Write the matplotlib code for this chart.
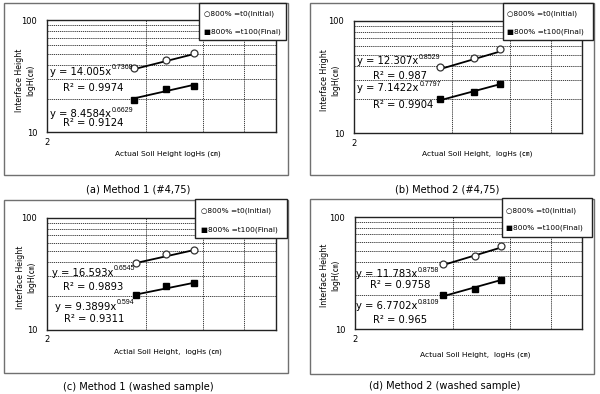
import matplotlib
matplotlib.use("Agg")
import matplotlib.pyplot as plt
import numpy as np
from matplotlib.patches import Rectangle
from matplotlib.ticker import FixedLocator, NullFormatter

plt.rcParams['font.family'] = ['DejaVu Sans', 'Noto Sans CJK KR']

W, H = 600, 394

# ---------------- data ----------------
panel_ids = ['a', 'b', 'c', 'd']
captions = ['(a) Method 1 (#4,75)', '(b) Method 2 (#4,75)',
            '(c) Method 1 (washed sample)', '(d) Method 2 (washed sample)']
ylabels = ['Interface Height\nlogH(㎝)', 'Interface Hright\nlogH(㎝)',
           'Interface Height\nlogH(㎝)', 'Interface Height\nlogH(㎝)']
xlabels = ['Actual Soil Height logHs (㎝)', 'Actual Soil Height,  logHs (㎝)',
           'Actial Soil Height,  logHs (㎝)', 'Actual Soil Height,  logHs (㎝)']
legend_initial = '○800% =t0(Initial)'
legend_final = '■800% =t100(Final)'

hs_a = [3.69, 4.63, 5.60]
hs_b = [3.67, 4.67, 5.60]
hs_c = [3.73, 4.63, 5.63]
hs_d = [3.72, 4.69, 5.61]

init_a = [37.7, 44.0, 50.8]
init_b = [38.7, 46.5, 56.0]
init_c = [39.2, 47.2, 51.6]
init_d = [38.4, 45.2, 55.2]

final_a = [19.5, 24.4, 25.9]
final_b = [20.1, 23.5, 27.7]
final_c = [20.2, 24.3, 26.0]
final_d = [20.3, 22.7, 27.7]

# power trendline y = k * x^n and R^2
init_k = ['14.005', '12.307', '16.593', '11.783']
init_n = ['0.7368', '0.8529', '0.6545', '0.8758']
init_r2 = ['0.9974', '0.987', '0.9893', '0.9758']
final_k = ['8.4584', '7.1422', '9.3899', '6.7702']
final_n = ['0.6629', '0.7797', '0.594', '0.8109']
final_r2 = ['0.9124', '0.9904', '0.9311', '0.965']

hs_all = [hs_a, hs_b, hs_c, hs_d]
init_all = [init_a, init_b, init_c, init_d]
final_all = [final_a, final_b, final_c, final_d]

y_minor = [20, 30, 40, 50, 60, 70, 80, 90]
x_minor = [4, 6, 8]

# ---------------- layout (pixels, top-left origin) ----------------
plot_box = [(47, 20.3, 276, 132.3), (354, 21, 582.3, 133.3),
            (47, 217.7, 276, 329.5), (355, 217, 582.3, 329.3)]
outer_box = [(4, 3, 288, 175), (310, 3, 594, 175),
             (4, 200, 288, 372.5), (309.5, 199, 594, 373.7)]
legend_box = [(199, 3, 286, 40), (503, 3, 593, 40),
              (195, 199, 287, 238), (502, 198, 592, 237)]
legend_text = [(204, 13.3, 31.7), (507, 13.3, 31.7),
               (201, 211, 229.3), (506, 210.3, 227.7)]
caption_pos = [(138.5, 190), (447, 190), (138.5, 387), (445, 386)]
ylabel_pos = [(25.5, 80), (330, 80), (26, 277), (330, 275)]
xlabel_pos = [(168, 154), (477, 154), (168, 352), (475, 354.7)]
eq_pos = [
    [(50, 71.7), (63.3, 87.7), (50, 114.3), (63.3, 123.3)],
    [(357.3, 61), (373.3, 75.7), (357.3, 88.3), (373.3, 105)],
    [(51.7, 272.7), (63.3, 287), (55, 306.7), (64, 319.3)],
    [(356, 274), (370, 285.3), (356, 306.3), (373.3, 320.3)],
]
EQ_FS = 7.2
SUP_FS = 5.0


def fx(px):
    return px / W


def fy(py):
    return 1 - py / H


fig = plt.figure(figsize=(W / 100, H / 100), dpi=100)
fig.patch.set_facecolor('white')
renderer = fig.canvas.get_renderer()


def power_label(px, py, k, n):
    t = fig.text(fx(px), fy(py), 'y = %sx' % k, fontsize=EQ_FS, va='center', ha='left')
    bb = t.get_window_extent(renderer=renderer)
    fig.text(bb.x1 / W + 0.6 / W, fy(py) + 3.8 / H, n, fontsize=SUP_FS,
             family=['Liberation Sans', 'DejaVu Sans'], va='center', ha='left')


for i in range(4):
    # outer chart frame
    x0, y0, x1, y1 = outer_box[i]
    fig.patches.append(Rectangle((fx(x0), fy(y1)), fx(x1) - fx(x0), fy(y0) - fy(y1),
                                 transform=fig.transFigure, fill=False,
                                 edgecolor='#707070', linewidth=1.0, zorder=0))

    x0, y0, x1, y1 = plot_box[i]
    ax = fig.add_axes([fx(x0), fy(y1), fx(x1) - fx(x0), fy(y0) - fy(y1)])
    ax.set_xscale('log')
    ax.set_yscale('log')
    ax.set_xlim(2, 10)
    ax.set_ylim(10, 100)
    ax.yaxis.set_major_locator(FixedLocator([10, 100]))
    ax.set_yticklabels(['10', '100'], fontsize=6.0)
    ax.xaxis.set_major_locator(FixedLocator([2]))
    ax.set_xticklabels(['2'], fontsize=6.0)
    ax.yaxis.set_minor_locator(FixedLocator(y_minor))
    ax.xaxis.set_minor_locator(FixedLocator(x_minor))
    ax.xaxis.set_minor_formatter(NullFormatter())
    ax.yaxis.set_minor_formatter(NullFormatter())
    ax.tick_params(which='both', length=0)
    ax.tick_params(axis='y', pad=7)
    ax.tick_params(axis='x', pad=4)
    ax.grid(which='minor', linestyle=(0, (1.5, 1)), color='#222222', linewidth=0.6)
    for s in ax.spines.values():
        s.set_linewidth(1.0)
        s.set_color('#222222')

    xs = np.array(hs_all[i])
    kn_i = (float(init_k[i]), float(init_n[i]))
    kn_f = (float(final_k[i]), float(final_n[i]))
    xt = np.linspace(xs.min(), xs.max(), 50)
    ax.plot(xt, kn_i[0] * xt ** kn_i[1], color='black', lw=1.3, zorder=3)
    ax.plot(xt, kn_f[0] * xt ** kn_f[1], color='black', lw=1.3, zorder=3)
    ax.plot(xs, init_all[i], linestyle='none', marker='o', markersize=5,
            markerfacecolor='white', markeredgecolor='#333333', markeredgewidth=0.9, zorder=4)
    ax.plot(xs, final_all[i], linestyle='none', marker='s', markersize=4.5,
            color='black', zorder=4)

    # equations
    p = eq_pos[i]
    power_label(p[0][0], p[0][1], init_k[i], init_n[i])
    fig.text(fx(p[1][0]), fy(p[1][1]), 'R² = ' + init_r2[i], fontsize=EQ_FS, va='center', ha='left')
    power_label(p[2][0], p[2][1], final_k[i], final_n[i])
    fig.text(fx(p[3][0]), fy(p[3][1]), 'R² = ' + final_r2[i], fontsize=EQ_FS, va='center', ha='left')

    # legend box
    x0, y0, x1, y1 = legend_box[i]
    fig.patches.append(Rectangle((fx(x0), fy(y1)), fx(x1) - fx(x0), fy(y0) - fy(y1),
                                 transform=fig.transFigure, facecolor='white',
                                 edgecolor='#222222', linewidth=1.0, zorder=5))
    lx, ly1, ly2 = legend_text[i]
    fig.text(fx(lx), fy(ly1), legend_initial, fontsize=5.3, va='center', ha='left', zorder=6)
    fig.text(fx(lx), fy(ly2), legend_final, fontsize=5.3, va='center', ha='left', zorder=6)

    # axis labels
    cx, cy = ylabel_pos[i]
    fig.text(fx(cx), fy(cy), ylabels[i], rotation=90, fontsize=5.6, va='center', ha='center',
             linespacing=1.3)
    cx, cy = xlabel_pos[i]
    fig.text(fx(cx), fy(cy), xlabels[i], fontsize=5.4, va='center', ha='center')

    # caption
    cx, cy = caption_pos[i]
    fig.text(fx(cx), fy(cy), captions[i], fontsize=7.1, va='center', ha='center')

fig.savefig('out.png', dpi=100, facecolor='white')
